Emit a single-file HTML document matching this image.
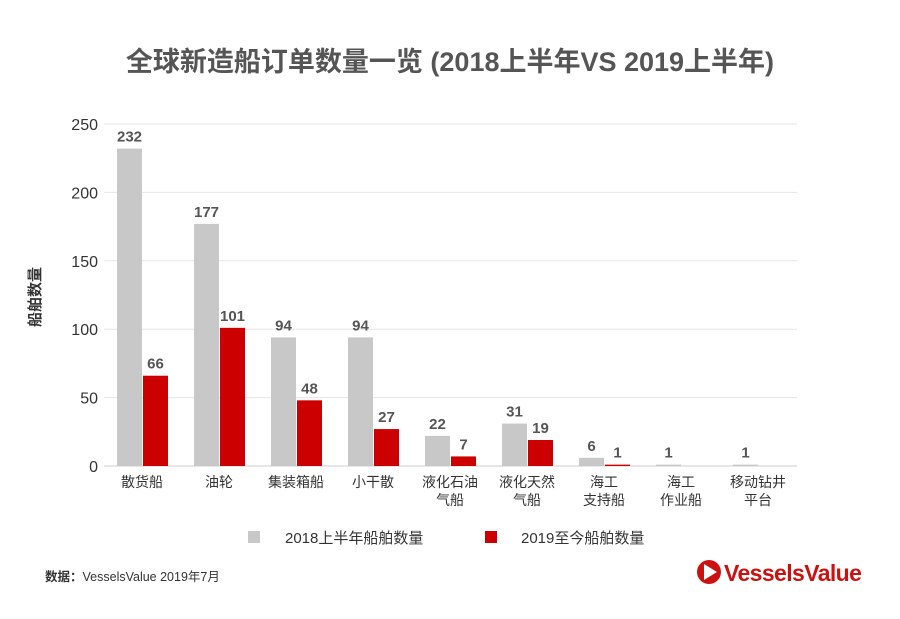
<!DOCTYPE html>
<html><head><meta charset="utf-8">
<style>
body{margin:0;background:#fff;}
svg text{font-family:"Liberation Sans","Noto Sans CJK SC",sans-serif;}
</style></head>
<body>
<svg id="chart" width="900" height="614" viewBox="0 0 900 614" xmlns="http://www.w3.org/2000/svg">
<text x="450" y="71" text-anchor="middle" font-size="27" font-weight="bold" fill="#555">全球新造船订单数量一览 (2018上半年VS 2019上半年)</text>
<text transform="translate(40,297) rotate(-90)" text-anchor="middle" font-size="15" font-weight="bold" fill="#333">船舶数量</text>
<g id="grid"></g><g id="bars"></g><g id="xlabels"></g>
<rect x="248" y="531" width="12" height="12" fill="#c8c8c8"/>
<text x="285" y="543" font-size="15" fill="#333">2018上半年船舶数量</text>
<rect x="485" y="531" width="12" height="12" fill="#cc0000"/>
<text x="521" y="543" font-size="15" fill="#333">2019至今船舶数量</text>
<text x="45" y="581" font-size="12.5" fill="#333"><tspan font-weight="bold">数据：</tspan>VesselsValue 2019年7月</text>
<g>
<circle cx="709" cy="572" r="12" fill="#cc1111"/>
<polygon points="704,564 717,572 704,580" fill="#fff"/>
<text x="724" y="581" font-size="23" font-weight="bold" fill="#cc1111" letter-spacing="-0.6">VesselsValue</text>
</g>
</svg>
<script>
const categories=[["散货船"],["油轮"],["集装箱船"],["小干散"],["液化石油","气船"],["液化天然","气船"],["海工","支持船"],["海工","作业船"],["移动钻井","平台"]];
const values2018=[232,177,94,94,22,31,6,1,1];
const values2019=[66,101,48,27,7,19,1,0,0];
const yTicks=[0,50,100,150,200,250];
const NS="http://www.w3.org/2000/svg";
const x0=104,step=77,bw=25,yBase=466,yTop=124,yMax=250;
const y=v=>yBase-(v/yMax)*(yBase-yTop);
const xg=i=>x0+13+i*step;
function mk(tag,attrs,parent,txt){const e=document.createElementNS(NS,tag);for(const k in attrs)e.setAttribute(k,attrs[k]);if(txt!==undefined)e.textContent=txt;parent.appendChild(e);return e;}
const grid=document.getElementById('grid'),bars=document.getElementById('bars'),xl=document.getElementById('xlabels');
yTicks.forEach(t=>{
 const l=mk('line',{x1:104,x2:797,y1:y(t),y2:y(t),stroke:t===0?'#ccc':'#e6e6e6','stroke-width':1},grid);
 
 
 const tx=mk('text',{x:98,y:y(t)+6,'text-anchor':'end','font-size':16,fill:'#333'},grid,String(t));
 
 
});
categories.forEach((c,i)=>{
 [[values2018[i],'#c8c8c8',0,'2018'],[values2019[i],'#cc0000',bw+1,'2019']].forEach(([v,col,off,s])=>{
  const r=mk('rect',{x:xg(i)+off,y:y(v),width:bw,height:yBase-y(v),fill:col},bars);
  
  
  if(v>0){
   const t=mk('text',{x:xg(i)+off+bw/2,y:y(v)-7,'text-anchor':'middle','font-size':15,'font-weight':'bold',fill:'#555'},bars,String(v));
   
   
  }
 });
 c.forEach((line,j)=>{
  const t=mk('text',{x:xg(i)+bw,y:487+j*18,'text-anchor':'middle','font-size':14,fill:'#333'},xl,line);
  
  
 });
});
</script>
</body></html>
